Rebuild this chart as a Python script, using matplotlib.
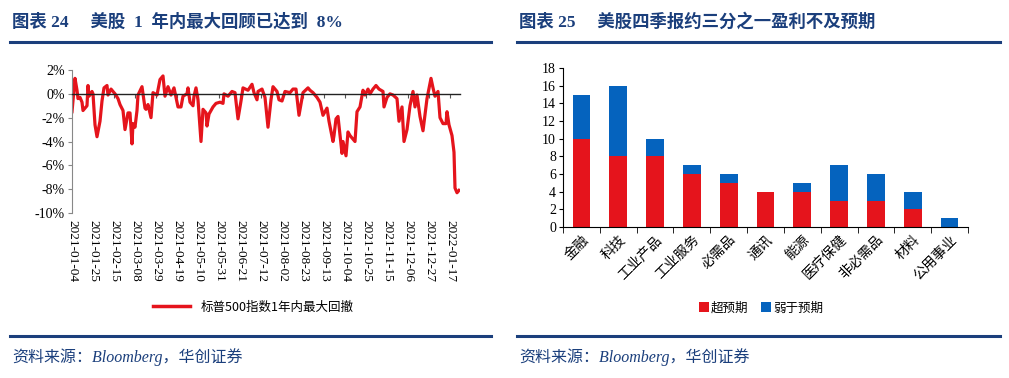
import numpy as np
import pandas as pd
import matplotlib
matplotlib.use('Agg')
import matplotlib.pyplot as plt
from matplotlib.lines import Line2D

plt.rcParams['font.family'] = ['Liberation Serif', 'Noto Sans CJK SC', 'DejaVu Sans']
plt.rcParams['axes.unicode_minus'] = False

# ---- left chart data: S&P 500 1y max drawdown (%), days since 2021-01-04
start = pd.Timestamp('2021-01-04')
days = [0, 3, 5, 6, 8, 10, 11, 13, 15, 16, 17, 20, 21, 23, 25, 28, 30, 32, 35, 36,
        39, 43, 46, 48, 51, 53, 56, 58, 60, 61, 63, 65, 66, 70, 73, 74, 76, 79, 81, 85,
        88, 91, 93, 96, 99, 102, 104, 106, 109, 111, 115, 116, 118, 121, 122, 124, 126, 129, 131, 134,
        135, 137, 141, 144, 148, 151, 152, 156, 160, 163, 166, 169, 171, 176, 180, 182, 185, 186, 190, 193,
        196, 199, 201, 205, 207, 210, 213, 218, 221, 224, 227, 231, 236, 238, 241, 245, 248, 251, 253, 255,
        257, 261, 262, 264, 266, 270, 271, 274, 276, 278, 283, 285, 288, 291, 293, 296, 298, 301, 304, 307,
        311, 312, 315, 318, 321, 325, 327, 330, 332, 335, 338, 341, 343, 345, 348, 351, 355, 359, 361, 363,
        366, 368, 371, 374, 375, 377, 380, 382, 383, 385, 387]
drawdown = [-1.5, 1.3, 0.3, -0.4, -0.3, -0.7, -1.4, -1.2, -1.0, 0.7, -0.2, 0.2, 0.0, -2.6, -3.6, -2.3, -0.6, 0.5, 0.7, -0.1,
            0.4, 0.0, -0.4, -0.9, -1.4, -3.0, -1.6, -1.6, -4.2, -2.5, -2.8, -1.4, -0.1, 0.6, -1.2, -1.3, -0.9, -2.0, 0.1, -0.1,
            1.2, 1.5, -0.2, 0.6, -0.1, 0.5, -0.3, -1.1, -1.1, -0.2, 0.0, 0.5, -0.7, -1.0, -0.2, 0.5, -0.5, -4.0, -1.3, -1.6,
            -2.7, -1.7, -1.1, -0.8, -0.7, -0.8, 0.0, -0.2, 0.2, 0.1, -2.1, -0.6, 0.5, 0.3, 0.8, 0.1, -0.5, 0.2, 0.4, -0.3,
            -2.8, -0.5, 0.6, 0.2, -0.5, -0.6, 0.2, 0.1, 0.4, 0.4, -1.8, 0.1, 0.5, 0.3, 0.1, -0.3, -0.7, -1.8, -1.5, -1.2,
            -2.3, -4.0, -3.5, -2.1, -1.9, -5.0, -4.0, -5.2, -3.2, -3.5, -4.0, -1.5, -1.1, 0.3, -0.1, 0.4, 0.0, 0.4, 0.7, 0.4,
            0.2, -1.1, -0.3, 0.0, -0.1, -0.4, -2.3, -1.1, -4.0, -3.0, -1.0, 0.2, -1.1, -0.1, -1.9, -3.1, -0.4, 1.3, 0.5, -0.2,
            0.2, -2.0, -2.5, -2.5, -1.5, -2.6, -3.5, -4.9, -7.9, -8.3, -8.1]
dates = start + pd.to_timedelta(days, unit='D')
tick_dates = pd.date_range('2021-01-04', '2022-01-17', freq='21D')

# ---- right chart data
sectors = ['金融', '科技', '工业产品', '工业服务', '必需品', '通讯', '能源', '医疗保健', '非必需品', '材料', '公用事业']
beat = [10, 8, 8, 6, 5, 4, 4, 3, 3, 2, 0]
miss = [5, 8, 2, 1, 1, 0, 1, 4, 3, 2, 1]

navy = '#1B3F7C'
red = '#E5141C'
blue = '#0563BE'

fig = plt.figure(figsize=(10.09, 3.78), dpi=100)

# headers / footers
for x0, x1, title in [(10, 491, '图表 24     美股  1  年内最大回顾已达到  8%'),
                      (517, 1000, '图表 25     美股四季报约三分之一盈利不及预期')]:
    fig.add_artist(Line2D([x0 / 1009, x1 / 1009], [1 - 42 / 378] * 2, color=navy, lw=2.2))
    fig.add_artist(Line2D([x0 / 1009, x1 / 1009], [1 - 336 / 378] * 2, color=navy, lw=2.2))
    fig.text((x0 + 2) / 1009, 1 - 22 / 378, title, color=navy, fontsize=12.5,
             fontweight='bold', va='center', ha='left')
    fig.text((x0 + 2) / 1009, 1 - 357 / 378, '资料来源：Bloomberg，华创证券', color=navy,
             fontsize=11.5, style='italic', va='center', ha='left')

# ---- left chart
ax = fig.add_axes([72 / 1009, 1 - 213 / 378, 388 / 1009, 143 / 378])
ax.plot(dates, drawdown, color=red, lw=2.3)
ax.set_ylim(-10, 2)
ax.set_xlim(pd.Timestamp('2021-01-04'), pd.Timestamp('2022-01-27'))
ax.set_yticks(np.arange(-10, 3, 2))
ax.set_yticklabels([f'{v}%' for v in range(-10, 3, 2)], fontsize=10)
ax.spines['top'].set_visible(False)
ax.spines['right'].set_visible(False)
ax.spines['left'].set_color('#888888')
ax.spines['bottom'].set_position(('data', 0))
ax.spines['bottom'].set_color('#222222')
ax.spines['bottom'].set_linewidth(1.0)
ax.set_xticks(tick_dates)
ax.tick_params(axis='x', length=3, labelbottom=False, color='#555555')
ax.tick_params(axis='y', length=3, color='#888888', pad=2)
for d in tick_dates:
    ax.text(d, -0.05, d.strftime('%Y-%m-%d'), transform=ax.get_xaxis_transform(),
            rotation=270, ha='center', va='top', fontsize=9.5)
ax.legend(handles=[Line2D([], [], color=red, lw=2.5)], labels=['标普500指数1年内最大回撤'],
          loc='center', bbox_to_anchor=(253 / 1009, 1 - 307 / 378), bbox_transform=fig.transFigure,
          frameon=False, handlelength=3, prop={'family': ['Noto Sans CJK SC'], 'size': 9})

# ---- right chart
ax2 = fig.add_axes([563 / 1009, 1 - 227 / 378, 405 / 1009, 159 / 378])
xs = np.arange(len(sectors))
ax2.bar(xs, beat, width=0.48, color=red, label='超预期')
ax2.bar(xs, miss, width=0.48, bottom=beat, color=blue, label='弱于预期')
ax2.set_xlim(-0.5, len(sectors) - 0.5)
ax2.set_ylim(0, 18)
ax2.set_yticks(np.arange(0, 19, 2))
ax2.tick_params(axis='y', labelsize=10, length=3, pad=2)
ax2.set_xticks(xs)
ax2.set_xticklabels(sectors, rotation=45, ha='right', rotation_mode='anchor',
                    fontsize=10, family=['Noto Sans CJK SC'])
ax2.tick_params(axis='x', length=0, pad=4)
ax2.set_xticks(np.arange(-0.5, len(sectors), 1), minor=True)
ax2.tick_params(axis='x', which='minor', length=4)
for s in ['top', 'right']:
    ax2.spines[s].set_visible(False)
ax2.legend(loc='center', bbox_to_anchor=(761 / 1009, 1 - 308 / 378), bbox_transform=fig.transFigure,
           ncol=2, frameon=False, handlelength=0.8, handleheight=0.8, handletextpad=0.2,
           columnspacing=1.0, prop={'family': ['Noto Sans CJK SC'], 'size': 9})

fig.savefig('out.png', dpi=100)
